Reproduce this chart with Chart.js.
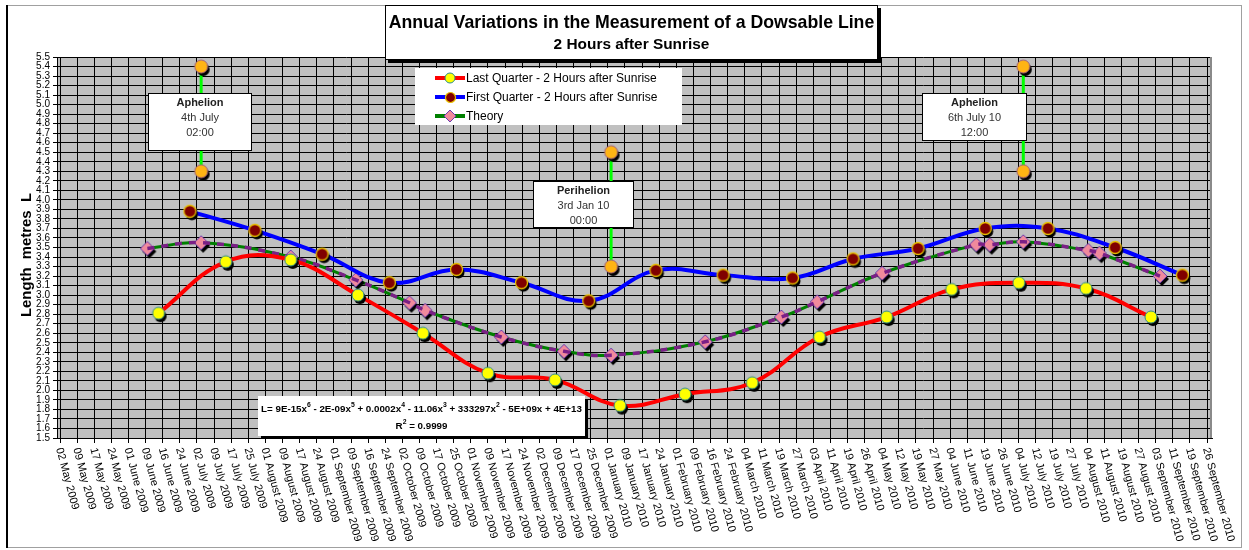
<!DOCTYPE html>
<html><head><meta charset="utf-8">
<script src="https://cdn.jsdelivr.net/npm/chart.js@4.4.1/dist/chart.umd.min.js"></script>
<style>html,body{margin:0;padding:0;background:#fff;overflow:hidden}</style>
</head><body>
<canvas id="c" width="1249" height="550"></canvas>
<script>
const FONT = 'Arial, "Liberation Sans", Helvetica, sans-serif';
const ORIGIN = '2009-05-02';
const AXIS_END = '2010-09-26';

const xTickLabels = ['02 May 2009','09 May 2009','17 May 2009','24 May 2009','01 June 2009','09 June 2009','16 June 2009','24 June 2009','02 July 2009','09 July 2009','17 July 2009','25 July 2009','01 August 2009','09 August 2009','17 August 2009','24 August 2009','01 September 2009','09 September 2009','16 September 2009','24 September 2009','02 October 2009','09 October 2009','17 October 2009','25 October 2009','01 November 2009','09 November 2009','17 November 2009','24 November 2009','02 December 2009','09 December 2009','17 December 2009','25 December 2009','01 January 2010','09 January 2010','17 January 2010','24 January 2010','01 February 2010','09 February 2010','16 February 2010','24 February 2010','04 March 2010','11 March 2010','19 March 2010','27 March 2010','03 April 2010','11 April 2010','19 April 2010','26 April 2010','04 May 2010','12 May 2010','19 May 2010','27 May 2010','04 June 2010','11 June 2010','19 June 2010','26 June 2010','04 July 2010','12 July 2010','19 July 2010','27 July 2010','04 August 2010','11 August 2010','19 August 2010','27 August 2010','03 September 2010','11 September 2010','19 September 2010','26 September 2010'];

const lastQuarterDates = ['2009-06-15','2009-07-15','2009-08-13','2009-09-12','2009-10-11','2009-11-09','2009-12-09','2010-01-07','2010-02-05','2010-03-07','2010-04-06','2010-05-06','2010-06-04','2010-07-04','2010-08-03','2010-09-01'];
const lastQuarterValues = [2.81,3.35,3.37,3.00,2.60,2.18,2.11,1.84,1.96,2.08,2.56,2.77,3.06,3.13,3.07,2.77];

const firstQuarterDates = ['2009-06-29','2009-07-28','2009-08-27','2009-09-26','2009-10-26','2009-11-24','2009-12-24','2010-01-23','2010-02-22','2010-03-25','2010-04-21','2010-05-20','2010-06-19','2010-07-17','2010-08-16','2010-09-15'];
const firstQuarterValues = [3.88,3.68,3.43,3.13,3.27,3.13,2.94,3.26,3.21,3.18,3.38,3.49,3.70,3.70,3.50,3.21];

const theoryDates = ['2009-06-10','2009-07-04','2009-08-13','2009-09-11','2009-10-05','2009-10-12','2009-11-15','2009-12-13','2010-01-03','2010-02-14','2010-03-20','2010-04-05','2010-05-04','2010-06-15','2010-06-21','2010-07-06','2010-08-04','2010-08-09','2010-09-05'];
const theoryValues = [3.49,3.55,3.40,3.16,2.92,2.84,2.56,2.41,2.37,2.51,2.77,2.93,3.23,3.53,3.53,3.56,3.47,3.44,3.20];

const apsisDates = ['2009-07-04','2010-01-03','2010-07-06'];
const apsisLow = [4.3, 3.3, 4.3];
const apsisHigh = [5.4, 4.5, 5.4];
const apsisTitle = ['Aphelion','Perihelion','Aphelion'];
const apsisDay = ['4th July','3rd Jan 10','6th July 10'];
const apsisTime = ['02:00','00:00','12:00'];

const seriesNames = ['Last Quarter - 2 Hours after Sunrise','First Quarter - 2 Hours after Sunrise','Theory'];
const titleText = 'Annual Variations in the Measurement of a Dowsable Line';
const subtitleText = '2 Hours after Sunrise';
const yTitle = 'Length  metres  L';
const eqLine1 = [['L= 9E-15x',0],['6',1],[' - 2E-09x',0],['5',1],[' + 0.0002x',0],['4',1],[' - 11.06x',0],['3',1],[' + 333297x',0],['2',1],[' - 5E+09x + 4E+13',0]];
const eqLine2 = [['R',0],['2',1],[' = 0.9999',0]];

// layout (styles only)
const boxStyle = [
  {dx:-53, top:5.12, w:103, h:57},
  {dx:-78, top:4.20, w:100, h:46},
  {dx:-101, top:5.12, w:104, h:47}
];

const DAY = 864e5;
const dayOf = s => (Date.parse(s) - Date.parse(ORIGIN)) / DAY;
const pts = (d, v) => d.map((s, i) => ({x: dayOf(s), y: v[i]}));
const END = dayOf(AXIS_END);

function marker(shape, r, fill, stroke, lw, shadow) {
  const pad = shadow ? 4 : 1;
  const size = Math.ceil(2 * (r + pad + lw));
  const c = document.createElement('canvas');
  c.width = c.height = size;
  const g = c.getContext('2d');
  const m = size / 2;
  const path = (cx, cy) => {
    g.beginPath();
    if (shape === 'circle') g.arc(cx, cy, r, 0, Math.PI * 2);
    else { g.moveTo(cx, cy - r); g.lineTo(cx + r, cy); g.lineTo(cx, cy + r); g.lineTo(cx - r, cy); g.closePath(); }
  };
  if (shadow) { path(m + 2, m + 3); g.fillStyle = '#000'; g.fill(); }
  path(m, m); g.fillStyle = fill; g.fill(); g.lineWidth = lw; g.strokeStyle = stroke; g.stroke();
  return c;
}
const mYellow = marker('circle', 6, '#FFFF00', '#2A8C8C', 1, true);
const mMaroon = marker('circle', 6, '#800000', '#E8C000', 1.3, true);
const mDiamond = marker('diamond', 7, '#F08A9C', '#6A3AB0', 1, true);
const mOrange = marker('circle', 6.5, '#FFB414', '#A0607A', 1, true);
const lYellow = marker('circle', 5, '#FFFF00', '#2A8C8C', 1, false);
const lMaroon = marker('circle', 5, '#800000', '#E8C000', 1.2, false);
const lDiamond = marker('diamond', 6, '#F08A9C', '#6A3AB0', 1, false);

function richWidth(ctx, parts, base, sup) {
  let w = 0;
  parts.forEach(([t, s]) => { ctx.font = s ? sup : base; w += ctx.measureText(t).width; });
  return w;
}
function drawRich(ctx, parts, cx, y, base, sup) {
  let x = cx - richWidth(ctx, parts, base, sup) / 2;
  ctx.textAlign = 'left';
  parts.forEach(([t, s]) => {
    ctx.font = s ? sup : base;
    ctx.fillText(t, x, s ? y - 4 : y);
    x += ctx.measureText(t).width;
  });
}
function fitFont(ctx, text, weight, target) {
  ctx.font = weight + ' 10px ' + FONT;
  const w = ctx.measureText(text).width;
  return weight + ' ' + (10 * target / w).toFixed(2) + 'px ' + FONT;
}

const deco = {
  id: 'deco',
  beforeDraw(chart) {
    const {ctx, chartArea: a} = chart;
    ctx.save();
    ctx.fillStyle = '#fff';
    ctx.fillRect(0, 0, chart.width, chart.height);
    ctx.fillStyle = '#C0C0C0';
    ctx.fillRect(a.left, a.top, a.right - a.left, a.bottom - a.top);
    ctx.restore();
  },
  afterDraw(chart) {
    const {ctx, chartArea: a} = chart;
    const xs = chart.scales.x, ys = chart.scales.y;
    ctx.save();
    // plot right edge
    ctx.fillStyle = '#8a8a8a';
    ctx.fillRect(a.right - 2, a.top, 2, a.bottom - a.top);
    // outer frame
    ctx.strokeStyle = '#a0a0a0'; ctx.lineWidth = 1;
    ctx.strokeRect(7.5, 5.5, 1234, 542);
    ctx.fillStyle = '#000'; ctx.fillRect(6, 5, 2, 543);

    // x labels (rotated clockwise)
    ctx.fillStyle = '#000';
    ctx.font = '11px ' + FONT;
    ctx.textAlign = 'left'; ctx.textBaseline = 'middle';
    xs.ticks.forEach((t, i) => {
      const px = xs.getPixelForValue(t.value);
      ctx.save();
      ctx.translate(px - 1, a.bottom + 10);
      ctx.rotate(75 * Math.PI / 180);
      ctx.fillText(xTickLabels[i], 0, 0);
      ctx.restore();
    });

    // y title
    ctx.save();
    ctx.translate(27, 255);
    ctx.rotate(-Math.PI / 2);
    ctx.font = fitFont(ctx, yTitle, 'bold', 124);
    ctx.textAlign = 'center'; ctx.textBaseline = 'middle';
    ctx.fillText(yTitle, 0, 0);
    ctx.restore();

    // apsis boxes
    apsisDates.forEach((d, i) => {
      const px = xs.getPixelForValue(dayOf(d));
      const b = boxStyle[i];
      const l = Math.round(px + b.dx) + 0.5, t = Math.round(ys.getPixelForValue(b.top)) + 0.5;
      ctx.fillStyle = '#fff'; ctx.fillRect(l, t, b.w, b.h);
      ctx.strokeStyle = '#000'; ctx.lineWidth = 1; ctx.strokeRect(l, t, b.w, b.h);
      const cx = l + b.w / 2;
      ctx.textAlign = 'center'; ctx.textBaseline = 'middle';
      ctx.fillStyle = '#222';
      ctx.font = 'bold 11px ' + FONT; ctx.fillText(apsisTitle[i], cx, t + 9);
      ctx.fillStyle = '#333';
      ctx.font = '11px ' + FONT; ctx.fillText(apsisDay[i], cx, t + 24.5);
      ctx.fillText(apsisTime[i], cx, t + 39.5);
    });

    // equation box
    ctx.fillStyle = '#000'; ctx.fillRect(261, 399, 327, 40);
    ctx.fillStyle = '#fff'; ctx.fillRect(258, 396, 327, 40);
    ctx.fillStyle = '#000'; ctx.textBaseline = 'middle';
    const w10 = richWidth(ctx, eqLine1, 'bold 10px ' + FONT, 'bold 7px ' + FONT);
    const fs = 10 * 321 / w10;
    const base = 'bold ' + fs.toFixed(2) + 'px ' + FONT, sup = 'bold ' + (fs * 0.7).toFixed(2) + 'px ' + FONT;
    drawRich(ctx, eqLine1, 421.5, 409, base, sup);
    drawRich(ctx, eqLine2, 421.5, 426, base, sup);

    // legend
    ctx.fillStyle = '#fff'; ctx.fillRect(415, 68, 267, 57);
    const lc = ['#FF0000', '#0000FF', '#008000'];
    const lm = [lYellow, lMaroon, lDiamond];
    const ly = [78, 97, 116];
    seriesNames.forEach((n, i) => {
      ctx.strokeStyle = lc[i]; ctx.lineWidth = 4;
      ctx.beginPath(); ctx.moveTo(435, ly[i]); ctx.lineTo(465, ly[i]); ctx.stroke();
      const m = lm[i];
      ctx.drawImage(m, Math.round(450 - m.width / 2), Math.round(ly[i] - m.height / 2));
      ctx.fillStyle = '#000'; ctx.font = '12px ' + FONT;
      ctx.textAlign = 'left'; ctx.textBaseline = 'middle';
      ctx.fillText(n, 466, ly[i] + 1);
    });

    // title box
    ctx.fillStyle = '#000'; ctx.fillRect(388, 8, 493, 55);
    ctx.fillStyle = '#fff'; ctx.fillRect(385, 5, 493, 55);
    ctx.strokeStyle = '#000'; ctx.lineWidth = 1; ctx.strokeRect(385.5, 5.5, 492, 54);
    ctx.fillStyle = '#000'; ctx.textAlign = 'center'; ctx.textBaseline = 'middle';
    ctx.font = fitFont(ctx, titleText, 'bold', 486); ctx.fillText(titleText, 631.5, 23);
    ctx.font = fitFont(ctx, subtitleText, 'bold', 156); ctx.fillText(subtitleText, 631.5, 45);
    ctx.restore();
  }
};

const apsisSets = apsisDates.map((d, i) => ({
  label: 'apsis' + i,
  data: [{x: dayOf(d), y: apsisHigh[i]}, {x: dayOf(d), y: apsisLow[i]}],
  borderColor: '#00FF00', borderWidth: 3, tension: 0,
  pointStyle: mOrange, order: 10
}));

new Chart(document.getElementById('c'), {
  type: 'line',
  data: {
    datasets: [
      ...apsisSets,
      {label: seriesNames[2], data: pts(theoryDates, theoryValues), borderColor: '#008000', borderWidth: 3, tension: 0.4, pointStyle: mDiamond, order: 6},
      {label: 'trend', data: pts(theoryDates, theoryValues), borderColor: '#7A1F86', borderWidth: 3.5, borderDash: [7, 7], tension: 0.4, pointRadius: 0, order: 5},
      {label: seriesNames[0], data: pts(lastQuarterDates, lastQuarterValues), borderColor: '#FF0000', borderWidth: 4, tension: 0.4, pointStyle: mYellow, order: 4},
      {label: seriesNames[1], data: pts(firstQuarterDates, firstQuarterValues), borderColor: '#0000FF', borderWidth: 4, tension: 0.4, pointStyle: mMaroon, order: 3}
    ]
  },
  options: {
    responsive: false, animation: false, events: [],
    layout: {padding: {top: 57, right: 37, left: 0, bottom: 0}},
    plugins: {legend: {display: false}, tooltip: {enabled: false}},
    scales: {
      x: {
        type: 'linear', min: -1.34, max: END + 2.23,
        afterBuildTicks: s => { s.ticks = xTickLabels.map((_, i) => ({value: i * END / (xTickLabels.length - 1)})); },
        afterFit: s => { s.height = 112; },
        ticks: {display: false},
        grid: {color: '#000', lineWidth: 1, drawTicks: true, tickLength: 5, tickColor: '#000'},
        border: {display: true, color: '#000', width: 1}
      },
      y: {
        type: 'linear', min: 1.5, max: 5.5,
        afterFit: s => { s.width = 57; },
        ticks: {stepSize: 0.1, autoSkip: false, padding: 3, color: '#000', font: {family: FONT, size: 10}, callback: v => v.toFixed(1)},
        grid: {color: '#000', lineWidth: 1, drawTicks: true, tickLength: 4, tickColor: '#000'},
        border: {display: true, color: '#000', width: 1}
      }
    }
  },
  plugins: [deco]
});
</script>
</body></html>
